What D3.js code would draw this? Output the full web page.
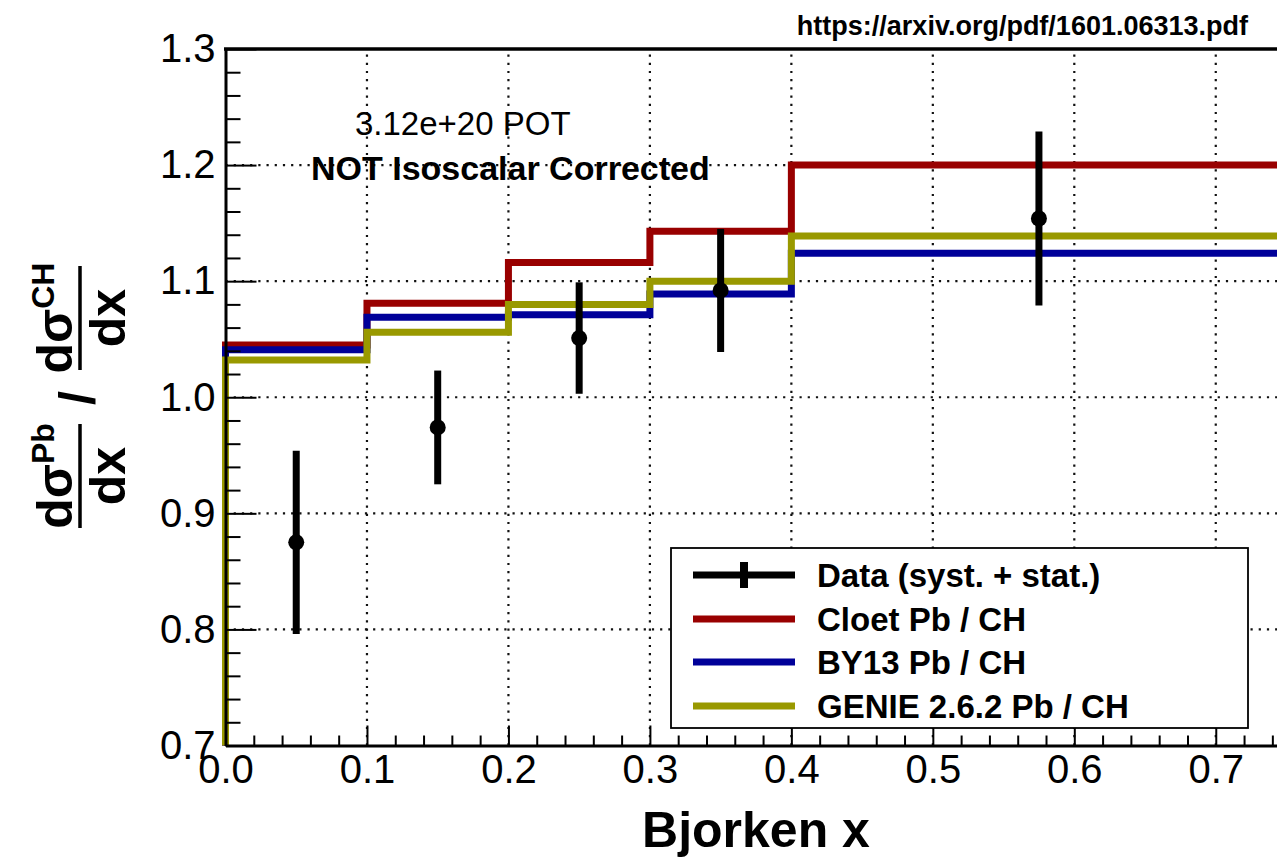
<!DOCTYPE html>
<html>
<head>
<meta charset="utf-8">
<script src="https://cdn.jsdelivr.net/npm/d3@7"></script>
<style>
  html, body { margin: 0; padding: 0; background: #fff; }
  svg { display: block; font-family: "Liberation Sans", Arial, Helvetica, sans-serif; }
</style>
</head>
<body>
<svg id="chart" width="1277" height="857"></svg>
<script>
// Bin edges in Bjorken x and model ratios per bin
const binEdges = [0, 0.1, 0.2, 0.3, 0.4, 0.75];
const cloet = [1.045, 1.081, 1.116, 1.143, 1.200];
const by13  = [1.041, 1.069, 1.071, 1.089, 1.124];
const genie = [1.032, 1.056, 1.080, 1.100, 1.139];

// Measured ratio with total (syst. + stat.) uncertainty
const dataX   = [0.05, 0.15, 0.25, 0.35, 0.575];
const dataY   = [0.875, 0.974, 1.051, 1.092, 1.154];
const dataErr = [0.079, 0.049, 0.048, 0.053, 0.075];

const xTicks = [0.0, 0.1, 0.2, 0.3, 0.4, 0.5, 0.6, 0.7];
const yTicks = [0.7, 0.8, 0.9, 1.0, 1.1, 1.2, 1.3];

const seriesNames  = ["Cloet Pb / CH", "BY13 Pb / CH", "GENIE 2.6.2 Pb / CH"];
const seriesColors = ["#990000", "#000099", "#999900"];
const dataLabel = "Data (syst. + stat.)";

const svg = d3.select("#chart");
const W = 1277, H = 857;
svg.append("rect").attr("width", W).attr("height", H).attr("fill", "#fff");

const x = d3.scaleLinear().domain([0, 0.75]).range([225.5, 1286.5]);
const y = d3.scaleLinear().domain([0.7, 1.3]).range([745.5, 49]);

// Dotted grid
const grid = svg.append("g").attr("stroke", "#111").attr("stroke-width", 2.2)
  .attr("stroke-dasharray", "2.2,6");
grid.selectAll("line.gx").data(xTicks.filter(d => d > 0)).join("line")
  .attr("x1", d => x(d)).attr("x2", d => x(d))
  .attr("y1", y(0.7)).attr("y2", y(1.3));
grid.selectAll("line.gy").data(yTicks.filter(d => d > 0.7 && d < 1.3)).join("line")
  .attr("x1", x(0)).attr("x2", x(0.75))
  .attr("y1", d => y(d)).attr("y2", d => y(d));

// Annotations
svg.append("text").attr("x", 355).attr("y", 135).attr("font-size", 33)
  .text("3.12e+20 POT");
svg.append("text").attr("x", 311).attr("y", 180).attr("font-size", 34)
  .attr("font-weight", "bold").text("NOT Isoscalar Corrected");

// Step histograms for the three models
const stepLine = d3.line().x(d => x(d[0])).y(d => y(d[1])).curve(d3.curveStepAfter);
[cloet, by13, genie].forEach((vals, i) => {
  const pts = [[binEdges[0], y.domain()[0]]];
  vals.forEach((v, j) => pts.push([binEdges[j], v]));
  pts.push([binEdges[binEdges.length - 1], vals[vals.length - 1]]);
  svg.append("path").attr("d", stepLine(pts)).attr("fill", "none")
    .attr("stroke", seriesColors[i]).attr("stroke-width", 7)
    .attr("stroke-linejoin", "miter").attr("stroke-linecap", "butt");
});

// Data points with error bars
const dg = svg.append("g");
dg.selectAll("line").data(dataX).join("line")
  .attr("x1", (d) => x(d)).attr("x2", (d) => x(d))
  .attr("y1", (d, i) => y(dataY[i] + dataErr[i]))
  .attr("y2", (d, i) => y(dataY[i] - dataErr[i]))
  .attr("stroke", "#000").attr("stroke-width", 7);
dg.selectAll("circle").data(dataX).join("circle")
  .attr("cx", (d) => x(d)).attr("cy", (d, i) => y(dataY[i]))
  .attr("r", 8).attr("fill", "#000");

// Axes: major and minor ticks drawn inward
const tickFont = 40;
const yAxis = d3.axisLeft(y).tickValues(yTicks).tickSizeInner(-31).tickSizeOuter(0)
  .tickPadding(10).tickFormat(d3.format(".1f"));
const gy = svg.append("g").attr("transform", `translate(${x(0)},0)`).call(yAxis);
const xAxis = d3.axisBottom(x).tickValues(xTicks).tickSizeInner(-20).tickSizeOuter(0)
  .tickPadding(9).tickFormat(d3.format(".1f"));
const gx = svg.append("g").attr("transform", `translate(0,${y(0.7)})`).call(xAxis);

const yMinor = d3.range(0.72, 1.3, 0.02).filter(v => Math.abs(v * 10 - Math.round(v * 10)) > 1e-6);
const xMinor = d3.range(0.02, 0.75, 0.02).filter(v => Math.abs(v * 10 - Math.round(v * 10)) > 1e-6);
svg.append("g").attr("transform", `translate(${x(0)},0)`)
  .call(d3.axisLeft(y).tickValues(yMinor).tickSizeInner(-15).tickSizeOuter(0).tickFormat(""))
  .call(g => g.select(".domain").remove());
svg.append("g").attr("transform", `translate(0,${y(0.7)})`)
  .call(d3.axisBottom(x).tickValues(xMinor).tickSizeInner(-10).tickSizeOuter(0).tickFormat(""))
  .call(g => g.select(".domain").remove());

svg.selectAll(".tick line").attr("stroke", "#000").attr("stroke-width", 2);
[gx, gy].forEach(g => {
  g.select(".domain").attr("stroke", "#000").attr("stroke-width", 3);
  g.selectAll("text").attr("font-size", tickFont).attr("fill", "#000")
    .attr("font-family", "'Liberation Sans', Arial, Helvetica, sans-serif");
});
// Top frame line
svg.append("line").attr("x1", x(0) - 1.5).attr("x2", x(0.75)).attr("y1", y(1.3)).attr("y2", y(1.3))
  .attr("stroke", "#000").attr("stroke-width", 3.5);

// Axis titles
svg.append("text").attr("x", 756).attr("y", 847).attr("text-anchor", "middle")
  .attr("font-size", 50).attr("font-weight", "bold").text("Bjorken x");

const yl = svg.append("g").attr("transform", "rotate(-90)")
  .attr("font-weight", "bold").attr("fill", "#000");
function fraction(cx, sup) {
  const num = yl.append("text").attr("x", cx).attr("y", 72).attr("text-anchor", "middle")
    .attr("font-size", 50);
  num.append("tspan").text("dσ");
  num.append("tspan").attr("font-size", 32).attr("dy", -18).text(sup);
  yl.append("line").attr("x1", cx - 52).attr("x2", cx + 52).attr("y1", 80).attr("y2", 80)
    .attr("stroke", "#000").attr("stroke-width", 3.5);
  yl.append("text").attr("x", cx).attr("y", 125).attr("text-anchor", "middle")
    .attr("font-size", 50).text("dx");
}
fraction(-476, "Pb");
yl.append("text").attr("x", -398).attr("y", 94).attr("text-anchor", "middle")
  .attr("font-size", 50).text("/");
fraction(-318, "CH");

// Legend
const lg = svg.append("g");
lg.append("rect").attr("x", 671).attr("y", 548).attr("width", 577).attr("height", 180)
  .attr("fill", "#fff").attr("stroke", "#000").attr("stroke-width", 1.8);
const rowY = [575, 619, 662, 706];
lg.append("line").attr("x1", 693).attr("x2", 795).attr("y1", rowY[0]).attr("y2", rowY[0])
  .attr("stroke", "#000").attr("stroke-width", 7);
lg.append("line").attr("x1", 744).attr("x2", 744).attr("y1", rowY[0] - 13).attr("y2", rowY[0] + 13)
  .attr("stroke", "#000").attr("stroke-width", 8);
lg.append("text").attr("x", 817).attr("y", rowY[0] + 12).attr("font-size", 33)
  .attr("font-weight", "bold").text(dataLabel);
seriesNames.forEach((name, i) => {
  const ry = rowY[i + 1];
  lg.append("line").attr("x1", 693).attr("x2", 795).attr("y1", ry).attr("y2", ry)
    .attr("stroke", seriesColors[i]).attr("stroke-width", 7);
  lg.append("text").attr("x", 817).attr("y", ry + 12).attr("font-size", 33)
    .attr("font-weight", "bold").text(name);
});

// Source reference
svg.append("text").attr("x", 1248).attr("y", 35).attr("text-anchor", "end")
  .attr("font-size", 27).attr("font-weight", "bold").text("https://arxiv.org/pdf/1601.06313.pdf");
</script>
</body>
</html>
